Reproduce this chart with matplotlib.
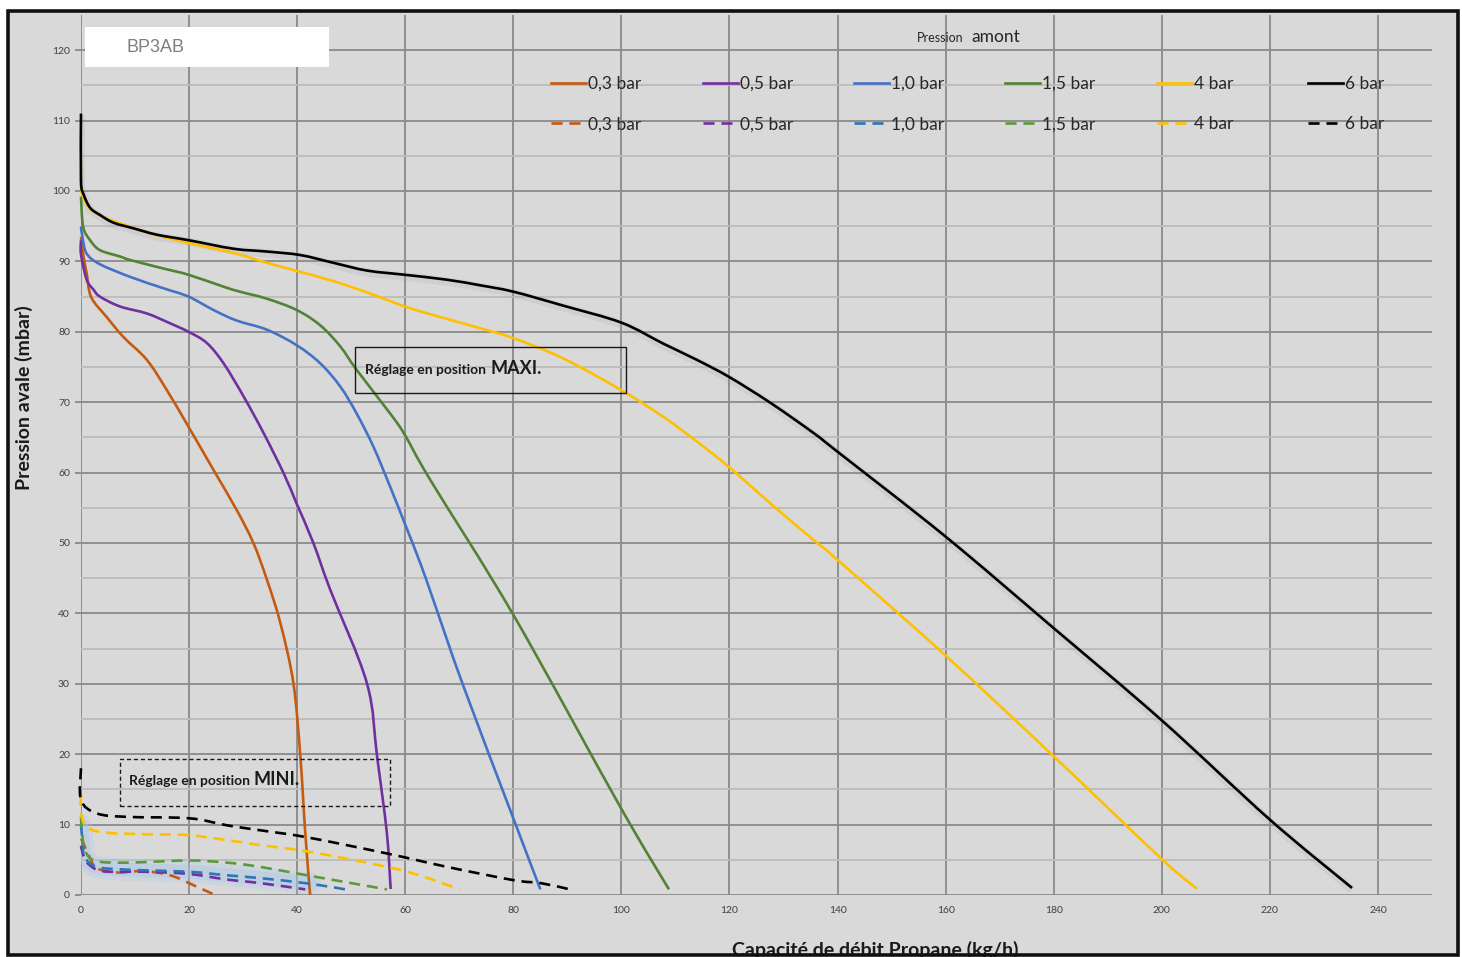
import numpy as np
import matplotlib.pyplot as plt
from matplotlib.patches import Rectangle, PathPatch
from matplotlib.path import Path
from matplotlib.lines import Line2D

plt.rcParams["font.family"] = ["Lato", "DejaVu Sans"]

# Pression amont
labels = ["0,3 bar", "0,5 bar", "1,0 bar", "1,5 bar", "4 bar", "6 bar"]
colors = ["#c55a11", "#7030a0", "#4472c4", "#548235", "#ffc000", "#000000"]
dash_colors = ["#c55a11", "#7030a0", "#2e75b6", "#5b9a3c", "#ffc000", "#000000"]

# Réglage en position MAXI. : débit (kg/h) / pression avale (mbar)
maxi_03_x = [0, 0.4, 1.05, 1.9, 4.75, 7.8, 12.2, 15.9, 19.9, 24.5, 28.8, 31.9, 34.4,
             36.9, 39.3, 40.6, 41.5, 42.4]
maxi_03_y = [93.5, 91.0, 88.3, 84.9, 82.1, 79.3, 76.0, 71.7, 66.5, 60.4, 54.7, 50.0, 44.8,
             38.6, 30.1, 19.6, 8.8, 0.0]

maxi_05_x = [0, 0, 1.05, 2.3, 3.5, 7.2, 12.2, 16.5, 19.9, 23.3, 26.4, 30.1, 33.8, 37.5,
             39.9, 43.0, 46.1, 52.9, 54.8, 56.6, 57.3]
maxi_05_y = [93.0, 91.0, 87.4, 86.0, 85.0, 83.6, 82.6, 81.2, 80.0, 78.4, 75.5, 70.8, 65.6, 59.9,
             55.6, 50.0, 43.4, 30.1, 19.6, 8.8, 0.85]

maxi_10_x = [0, 0.3, 1.05, 3.5, 9.1, 15.2, 19.9, 24.5, 28.8, 34.4, 39.9, 44.3, 48.0, 51.0,
             54.1, 57.2, 59.9, 62.8, 65.2, 70.7, 80.0, 85.0]
maxi_10_y = [95.0, 93.3, 91.1, 89.6, 87.8, 86.2, 85.0, 83.1, 81.6, 80.3, 78.1, 75.5, 72.2, 68.4,
             63.7, 58.0, 52.8, 47.1, 41.9, 29.8, 10.9, 0.8]

maxi_15_x = [0, 0.4, 1.7, 3.5, 7.2, 9.1, 15.2, 19.9, 26.4, 29.4, 34.4, 39.9, 44.3, 48.0, 51.0,
             57.2, 59.9, 64.6, 80.0, 99.8, 108.8]
maxi_15_y = [99.2, 94.9, 93.0, 91.6, 90.7, 90.2, 89.0, 88.1, 86.4, 85.7, 84.7, 83.1, 80.9, 77.9, 74.6,
             68.4, 65.4, 59.0, 39.8, 12.5, 0.8]

maxi_4_x = [0, 0, 1.0, 2.5, 5.4, 12.8, 20.0, 28.2, 34.4, 40.6, 46.7, 52.9, 59.9, 66.0, 73.9, 80.0,
            89.3, 100.0, 107.8, 114.0, 119.9, 127.6, 135.6, 140.0, 160.0, 180.0, 200.0, 206.5]
maxi_4_y = [103.5, 100.3, 98.2, 97.0, 95.9, 94.0, 92.6, 91.2, 89.8, 88.5, 87.2, 85.6, 83.6, 82.2, 80.5, 79.1,
            76.2, 71.7, 67.9, 64.4, 60.8, 55.6, 50.4, 47.6, 34.0, 19.7, 5.1, 0.9]

maxi_6_x = [0, 0, 0.5, 1.7, 3.5, 6.0, 9.7, 14.0, 20.0, 28.2, 34.4, 40.6, 46.7, 52.9, 59.9, 67.7,
            73.9, 80.0, 89.3, 100.0, 107.8, 114.0, 119.9, 127.6, 135.6, 140.1, 160.0,
            180.0, 200.0, 220.0, 235.2]
maxi_6_y = [111.0, 101.5, 99.5, 97.6, 96.6, 95.5, 94.7, 93.8, 93.0, 91.8, 91.4, 90.9, 89.8, 88.7, 88.1, 87.4,
            86.6, 85.7, 83.7, 81.3, 78.3, 76.0, 73.6, 69.9, 65.6, 62.9, 50.9,
            37.9, 24.8, 10.7, 1.0]

# Réglage en position MINI.
mini_03_x = [0, 0.4, 1.7, 2.9, 6.6, 11.5, 16.5, 20.8, 24.8]
mini_03_y = [8.0, 7.4, 5.2, 3.8, 3.2, 3.4, 2.8, 1.4, 0.0]

mini_05_x = [0, 0.3, 1.0, 2.9, 5.4, 12.0, 19.9, 27.0, 33.1, 41.5]
mini_05_y = [7.0, 6.0, 4.7, 3.6, 3.3, 3.3, 3.0, 2.2, 1.7, 0.8]

mini_10_x = [0, 0.3, 0.7, 2.9, 8.5, 19.9, 27.0, 33.1, 42.4, 48.9]
mini_10_y = [10.0, 7.5, 5.4, 4.0, 3.6, 3.3, 2.8, 2.4, 1.6, 0.8]

mini_15_x = [0, 0.3, 1.0, 2.9, 8.5, 19.9, 27.0, 33.1, 41.8, 56.6]
mini_15_y = [11.1, 8.0, 5.9, 4.8, 4.6, 4.9, 4.6, 4.0, 2.8, 0.8]

mini_4_x = [0, 0, 1.4, 5.4, 14.6, 20.0, 27.0, 33.1, 41.8, 56.6, 63.4, 70.0]
mini_4_y = [14.2, 11.5, 9.5, 8.8, 8.6, 8.5, 7.8, 7.1, 6.2, 4.0, 2.6, 0.8]

mini_6_x = [0, 0, 2.9, 8.5, 20.0, 27.0, 33.1, 41.8, 56.6, 67.7, 80.1, 85.0, 90.2]
mini_6_y = [18.0, 13.5, 11.6, 11.1, 10.9, 9.9, 9.2, 8.2, 5.9, 4.0, 2.1, 1.7, 0.85]

maxi_x = [maxi_03_x, maxi_05_x, maxi_10_x, maxi_15_x, maxi_4_x, maxi_6_x]
maxi_y = [maxi_03_y, maxi_05_y, maxi_10_y, maxi_15_y, maxi_4_y, maxi_6_y]
mini_x = [mini_03_x, mini_05_x, mini_10_x, mini_15_x, mini_4_x, mini_6_x]
mini_y = [mini_03_y, mini_05_y, mini_10_y, mini_15_y, mini_4_y, mini_6_y]

W, H = 1462, 957
DASH = (4.2, 2.6)


def fx(p):
    return p / W


def fy(p):
    return 1 - p / H


def smooth_path(x, y):
    # smoothed line through the points (Bezier segments, like a spreadsheet "smoothed line")
    pts = np.column_stack([x, y]).astype(float)
    n = len(pts)
    verts = [pts[0]]
    codes = [Path.MOVETO]
    for i in range(n - 1):
        p0 = pts[max(i - 1, 0)]
        p1 = pts[i]
        p2 = pts[i + 1]
        p3 = pts[min(i + 2, n - 1)]
        verts += [p1 + (p2 - p0) / 6, p2 - (p3 - p1) / 6, p2]
        codes += [Path.CURVE4] * 3
    return Path(verts, codes)


fig = plt.figure(figsize=(W / 100, H / 100), dpi=100)
fig.patch.set_facecolor("white")

# Gray sheet behind the chart, and its black frame on top of everything.
fig.add_artist(Rectangle((fx(7.5), fy(954.5)), fx(1457.5) - fx(7.5), fy(11) - fy(954.5),
                         transform=fig.transFigure, facecolor="#d9d9d9", edgecolor="none", zorder=-5))
fig.add_artist(Rectangle((fx(7.5), fy(954.5)), fx(1457.5) - fx(7.5), fy(11) - fy(954.5),
                         transform=fig.transFigure, fill=False, edgecolor="#111111", lw=2.6, zorder=20))

ax = fig.add_axes([fx(81), fy(895), fx(1432) - fx(81), fy(15) - fy(895)])
ax.patch.set_visible(False)
for s in ax.spines.values():
    s.set_visible(False)

ax.set_xlim(0, 250)
ax.set_ylim(0, 125)
ax.set_xticks(range(0, 241, 20))
ax.set_yticks(range(0, 121, 10))
ax.set_yticks(range(5, 120, 10), minor=True)
ax.set_axisbelow(True)
ax.grid(which="major", color="#8a8a8a", lw=1.3)
ax.grid(which="minor", axis="y", color="#bcbcbc", lw=1.3)
ax.tick_params(axis="x", length=0, pad=8, labelsize=7.5, labelcolor="#404040")
ax.tick_params(axis="y", which="major", length=4, width=1.3, color="#8a8a8a",
               pad=4, labelsize=7.5, labelcolor="#404040")
ax.tick_params(axis="y", which="minor", length=0)

# soft glow under the low-pressure MINI curves, shadow under the 6 bar curve
for lw, a in [(16, 0.25), (10, 0.35)]:
    ax.add_patch(PathPatch(smooth_path(mini_10_x[:9], mini_10_y[:9]), fill=False,
                           edgecolor="#a9c8ec", lw=lw, alpha=a, capstyle="round", zorder=1))
ax.add_patch(PathPatch(smooth_path(maxi_6_x, np.array(maxi_6_y) - 0.25), fill=False,
                       edgecolor="#9a9a9a", lw=6, alpha=0.15, zorder=1))

handles_maxi = []
handles_mini = []
for i in range(len(labels)):
    ax.add_patch(PathPatch(smooth_path(maxi_x[i], maxi_y[i]), fill=False,
                           edgecolor=colors[i], lw=1.9, zorder=3, clip_on=False))
    ax.add_patch(PathPatch(smooth_path(mini_x[i], mini_y[i]), fill=False,
                           edgecolor=dash_colors[i], lw=1.9, linestyle=(0, DASH),
                           zorder=3, clip_on=False))
    handles_maxi.append(Line2D([], [], color=colors[i], lw=1.9))
    handles_mini.append(Line2D([], [], color=dash_colors[i], lw=1.9, dashes=DASH))

# one legend column per upstream pressure
leg_x = [551, 703, 854, 1005, 1157, 1308]
for i in range(len(labels)):
    fig.legend([handles_maxi[i], handles_mini[i]], [labels[i], labels[i]],
               loc="upper left", bbox_to_anchor=(fx(leg_x[i]), fy(76)),
               frameon=False, fontsize=12.5, handlelength=2.0, handletextpad=0.15,
               labelspacing=1.4, borderpad=0, borderaxespad=0,
               labelcolor="#262626")

fig.text(fx(917), fy(42), "Pression", fontsize=9, color="#262626", va="baseline")
fig.text(fx(971), fy(42), "amont", fontsize=12.5, color="#262626", va="baseline")

# product name box
fig.add_artist(Rectangle((fx(85), fy(67)), fx(329) - fx(85), fy(27) - fy(67),
                         transform=fig.transFigure, facecolor="white", edgecolor="none", zorder=1))
fig.text(fx(127), fy(52), "BP3AB", fontsize=13, color="#7f7f7f", family="Liberation Sans",
         va="baseline", zorder=2)

# setting boxes
ax.add_patch(Rectangle((50.7, 71.3), 50.2, 6.5, fill=False, edgecolor="#1a1a1a", lw=1.0, zorder=4))
ax.text(52.6, 74.0, "Réglage en position", fontsize=10, fontweight="bold", color="#1a1a1a",
        va="baseline", zorder=5)
ax.text(75.7, 74.0, "MAXI.", fontsize=13, fontweight="bold", color="#1a1a1a",
        va="baseline", zorder=5)

ax.add_patch(Rectangle((7.3, 12.6), 49.9, 6.7, fill=False, edgecolor="#1a1a1a", lw=1.0,
                       linestyle=(0, (3, 2)), zorder=4))
ax.text(8.9, 15.6, "Réglage en position", fontsize=10, fontweight="bold", color="#1a1a1a",
        va="baseline", zorder=5)
ax.text(31.9, 15.6, "MINI.", fontsize=13, fontweight="bold", color="#1a1a1a",
        va="baseline", zorder=5)

fig.text(fx(24), fy(398), "Pression avale (mbar)", rotation=90, fontsize=14,
         fontweight="bold", color="#1a1a1a", ha="center", va="center")
fig.text(fx(875), fy(956), "Capacité de débit Propane (kg/h)", fontsize=14,
         fontweight="bold", color="#1a1a1a", ha="center", va="baseline", zorder=5)

fig.savefig("out.png", dpi=100)
